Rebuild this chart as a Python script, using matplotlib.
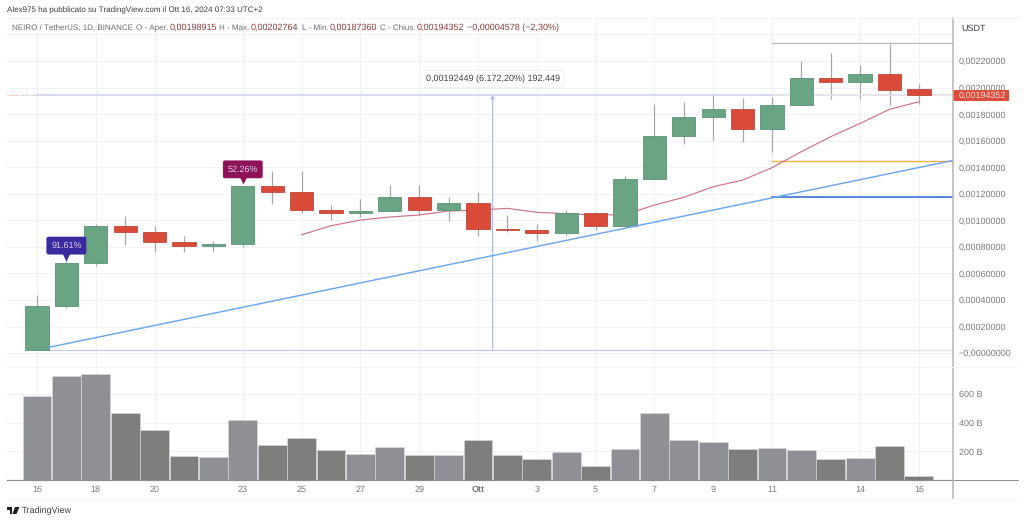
import matplotlib
matplotlib.use("Agg")
import matplotlib.pyplot as plt
from matplotlib.patches import Polygon, Rectangle
from matplotlib.ticker import FuncFormatter, FixedLocator
from matplotlib.transforms import blended_transform_factory, offset_copy

plt.rcParams['font.family'] = ['Liberation Sans', 'DejaVu Sans']
plt.rcParams['text.hinting'] = 'none'
plt.rcParams['text.hinting_factor'] = 1

# ---------- data ----------
opens = [.000025, .000354, .000682, .000957, .000912, .000834, .000804, .000823, .001256, .001211,
         .001075, .001052, .001072, .001175, .001080, .001132, .000934, .000929, .000902, .001052,
         .000957, .001309, .001633, .001778, .001836, .001690, .001866, .002072, .002040, .002100, .00198915]
closes = [.000354, .000682, .000957, .000912, .000834, .000804, .000823, .001256, .001211, .001075,
          .001052, .001072, .001175, .001080, .001132, .000934, .000927, .000902, .001052, .000957,
          .001309, .001633, .001778, .001836, .001690, .001866, .002072, .002040, .002100, .001984, .00194352]
highs = [.000437, .000700, .000972, .001032, .000957, .000884, .000846, .001262, .001371, .001369,
         .001113, .001160, .001266, .001263, .001175, .001213, .001040, .000972, .001077, .001060,
         .001331, .001876, .001891, .001946, .001921, .001926, .002198, .002258, .002168, .002328, .00202764]
lows = [.000025, .000340, .000655, .000814, .000763, .000763, .000759, .000801, .001123, .001057,
        .001000, .001027, .001072, .001040, .000997, .000884, .000914, .000846, .000884, .000927,
        .000957, .001309, .001572, .001605, .001590, .001514, .001866, .001911, .001916, .001866, .00187360]
volumes = [584, 728, 740, 470, 349, 167, 163, 416, 242, 293, 207, 184, 230, 172, 177, 281, 174, 149,
           193, 100, 216, 470, 281, 267, 218, 221, 207, 149, 153, 237, 26]
ma_start = 9
ma_values = [.000891, .000959, .001002, .001025, .001040, .001070, .001077, .001090, .001060, .001050,
             .001040, .001042, .001115, .001173, .001253, .001303, .001396, .001517, .001630, .001730,
             .001836, .001893]
tick_pos = [0, 2, 4, 7, 9, 11, 13, 15, 17, 19, 21, 23, 25, 28, 30]
tick_txt = ['16', '18', '20', '23', '25', '27', '29', 'Ott', '3', '5', '7', '9', '11', '14', '16']
price_ticks = [0, .0002, .0004, .0006, .0008, .0010, .0012, .0014, .0016, .0018, .0020, .0022, .0024]
vol_ticks = [200, 400, 600]
trend_x = [0.4, 31.12]
trend_y = [.000043, .001449]
measure_low, measure_high = .000026, .001944
level_gray, level_orange, level_blue = .002332, .001449, .001178
last_price = .00194352

# ---------- layout ----------
W, H = 1024, 522
fig = plt.figure(figsize=(W / 100, H / 100), dpi=100, facecolor='white')


def box(x0, y0, x1, y1):
    return [x0 / W, 1 - y1 / H, (x1 - x0) / W, (y1 - y0) / H]


def fx(x):
    return x / W


def fy(y):
    return 1 - y / H


ax = fig.add_axes(box(7, 18, 953, 367))
av = fig.add_axes(box(7, 367, 953, 480), sharex=ax)
xlim = (-1.02, 31.16)
ax.set_xlim(*xlim)
ax.set_ylim(-.000105, .002524)
av.set_ylim(0, 788)

GRID = '#f0f1f5'
TICK = '#777a84'
FS = 6.4
for a in (ax, av):
    a.set_facecolor('none')
    for s in a.spines.values():
        s.set_visible(False)
    a.grid(True, color=GRID, lw=0.8)
    a.set_axisbelow(True)
    a.yaxis.tick_right()
    a.tick_params(length=0, labelsize=FS, labelcolor=TICK, pad=4.3)

ax.yaxis.set_major_locator(FixedLocator(price_ticks))


def price_fmt(v, _):
    if v > .0023:
        return ''
    if abs(v) < 1e-9:
        return '\u22120,00000000'
    return f'{v:.8f}'.replace('.', ',')


ax.yaxis.set_major_formatter(FuncFormatter(price_fmt))
ax.tick_params(axis='x', labelbottom=False)
av.yaxis.set_major_locator(FixedLocator(vol_ticks))
av.yaxis.set_major_formatter(FuncFormatter(lambda v, _: f'{v:.0f} B'))
av.xaxis.set_major_locator(FixedLocator(tick_pos))
av.set_xticklabels(tick_txt)
av.tick_params(axis='x', pad=4.2, labelcolor=TICK)
for lab, t in zip(av.get_xticklabels(), tick_txt):
    if t == 'Ott':
        lab.set_fontweight('bold')

# ---------- candles ----------
GREEN, GREEN_E = '#6aa583', '#5a9375'
RED, RED_E = '#d94a38', '#bd4a3c'
xs = list(range(len(opens)))
is_up = [c >= o for o, c in zip(opens, closes)]
ax.vlines(xs, lows, highs, color='#a6a8a8', lw=0.9, zorder=2)
ax.bar(xs, [abs(c - o) for o, c in zip(opens, closes)], bottom=[min(o, c) for o, c in zip(opens, closes)],
       width=0.79, color=[GREEN if u else RED for u in is_up],
       edgecolor=[GREEN_E if u else RED_E for u in is_up], lw=0.6, zorder=3)

# ---------- volume ----------
av.bar(xs, volumes, width=0.98, color=['#8f9095' if u else '#7d7d7c' for u in is_up],
       edgecolor='#dcdcde', lw=0.4, zorder=2)
av.axhline(0, color='#8a8c92', lw=0.9, zorder=4, clip_on=False)
fig.add_artist(plt.Line2D([953 / W, 1018 / W], [fy(480), fy(480)], color='#8a8c92', lw=0.7))

# ---------- drawings ----------
ma_x = list(range(ma_start, ma_start + len(ma_values)))
ax.plot(ma_x, ma_values, color='#cc7486', lw=0.85, zorder=2.6)
ax.plot(trend_x, trend_y, color='#6ea6ec', lw=1.05, zorder=4)
ax.plot([xlim[0], 0], [last_price, last_price], color='#e08a80', lw=0.6, ls=':', zorder=2)
ax.plot([0, 25], [measure_high, measure_high], color='#cdd2f6', lw=1.1, zorder=2)
ax.plot([0, 25], [measure_low, measure_low], color='#bcc4f3', lw=0.7, zorder=2)
ax.plot([25, xlim[1]], [measure_high, measure_high], color='#dedee6', lw=1.1, zorder=2)
ax.plot([25, xlim[1]], [measure_low, measure_low], color='#e2e2e5', lw=1.0, zorder=2)
ax.plot([25, 25], [measure_low, level_gray], color='#eef0f3', lw=0.8, zorder=1)
ax.annotate('', xy=(15.5, measure_high), xytext=(15.5, measure_low),
            arrowprops=dict(arrowstyle='-|>,head_width=0.1,head_length=0.2', color='#a9b6f5', lw=0.8, shrinkA=0, shrinkB=0), zorder=2)
ax.plot([25, xlim[1]], [level_gray, level_gray], color='#bbbbbb', lw=0.9, zorder=2)
ax.plot([25, xlim[1]], [level_orange, level_orange], color='#f2b544', lw=1.05, zorder=2)
ax.plot([25, xlim[1]], [level_blue, level_blue], color='#3d6fd0', lw=1.2, zorder=2)

ax.annotate('0,00192449 (6.172,20%) 192.449', xy=(15.5, measure_high), xytext=(0, 11.5),
            textcoords='offset points', ha='center', va='center', fontsize=FS, color='#3d3f46',
            bbox=dict(boxstyle='round,pad=0.5', fc='white', ec='#efefef', lw=0.6), zorder=6)


def badge(x, top, txt, color):
    ax.annotate(txt, xy=(x, top), xytext=(0, 12.2), textcoords='offset points', ha='center', va='center',
                fontsize=FS, color='#d9cbe6',
                bbox=dict(boxstyle='round,pad=0.5,rounding_size=0.2', fc=color, ec=color, lw=0.3), zorder=6)
    tri = offset_copy(ax.transData, fig=fig, y=7, units='dots')
    ax.plot([x], [top], marker='v', ms=6.5, mfc=color, mec='none', transform=tri, zorder=6, clip_on=False)


badge(1, closes[1], '91.61%', '#3a2aa0')
badge(7, closes[7], '52.26%', '#8e1257')

# ---------- current price tag and right scale ----------
tr = blended_transform_factory(ax.transAxes, ax.transData)
tag_h = 11 * 0.0022 / 292
ax.add_patch(Rectangle((1.0, last_price - tag_h / 2), 56 / 946, tag_h, transform=tr, fc='#db4c3b', ec='none',
                       clip_on=False, zorder=8))
ax.text(1.0063, last_price, '0,00194352', transform=tr, va='center', ha='left', fontsize=FS, color='#f7ddd8',
        clip_on=False, zorder=9)
fig.add_artist(plt.Line2D([953 / W, 953 / W], [fy(18), fy(498)], color='#b4b5b8', lw=1.1))
for y in (18, 367, 499):
    fig.add_artist(plt.Line2D([7 / W, 1018 / W], [fy(y), fy(y)], color='#f3f4f6', lw=0.7))

# ---------- header and footer ----------
fig.text(fx(7), fy(10.5), 'Alex975 ha pubblicato su TradingView.com il Ott 16, 2024 07:33 UTC+2',
         fontsize=5.98, color='#3c3e46', va='center')
fig.text(fx(961), fy(29), 'USDT', fontsize=6.4, color='#3c3e46', va='center')
GREY, VAL = '#6a6d78', '#8c3a3a'
pieces = [(12, 'NEIRO / TetherUS, 1D, BINANCE', GREY), (136, 'O - Aper.', GREY), (170, '0,00198915', VAL),
          (219, 'H - Max.', GREY), (251, '0,00202764', VAL), (302, 'L - Min.', GREY), (330, '0,00187360', VAL),
          (380, 'C - Chius.', GREY), (417, '0,00194352', VAL), (467, '\u22120,00004578 (\u22122,30%)', VAL)]
for x, t, c in pieces:
    fig.text(fx(x), fy(28), t, fontsize=6.3 if c == VAL else 5.95, color=c, va='center')
fig.text(fx(22), fy(510.5), 'TradingView', fontsize=6.8, color='#3c3e46', va='center')

# TradingView logo
logo = '#1f2127'
fig.add_artist(Polygon([(fx(7), fy(507)), (fx(12), fy(507)), (fx(12), fy(514)), (fx(10), fy(514)),
                        (fx(10), fy(509.5)), (fx(7), fy(509.5))], transform=fig.transFigure, fc=logo, ec='none'))
fig.add_artist(Polygon([(fx(15), fy(507)), (fx(19.5), fy(507)), (fx(16.5), fy(514)), (fx(12.5), fy(514))],
                       transform=fig.transFigure, fc=logo, ec='none'))

fig.savefig('out.png', dpi=100, facecolor='white')
